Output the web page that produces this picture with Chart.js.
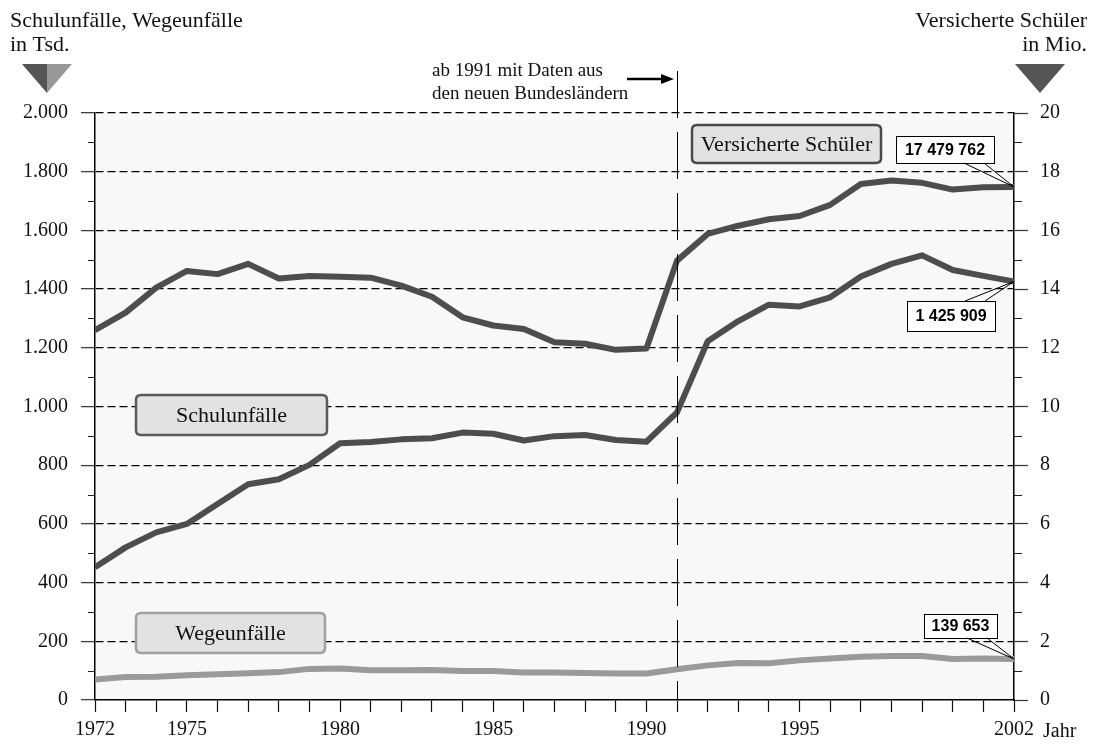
<!DOCTYPE html>
<html lang="de">
<head>
<meta charset="utf-8">
<title>Schulunfälle, Wegeunfälle und versicherte Schüler 1972–2002</title>
<script src="https://cdn.jsdelivr.net/npm/chart.js@4.4.1/dist/chart.umd.min.js"></script>
<style>
  html, body { margin: 0; padding: 0; background: #ffffff; }
  #wrap { width: 1093px; height: 746px; position: relative; }
  canvas { display: block; }
</style>
</head>
<body>
<div id="wrap"><canvas id="chart" width="1093" height="746"></canvas></div>
<script>
// Jahre 1972–2002
const years = [1972, 1973, 1974, 1975, 1976, 1977, 1978, 1979, 1980, 1981,
               1982, 1983, 1984, 1985, 1986, 1987, 1988, 1989, 1990, 1991,
               1992, 1993, 1994, 1995, 1996, 1997, 1998, 1999, 2000, 2001, 2002];

// Schulunfälle in Tsd.
const schulunfaelle = [452, 520, 571, 600, 668, 735, 752, 801, 875, 879,
                       888, 892, 911, 907, 884, 899, 903, 886, 880, 980,
                       1222, 1291, 1347, 1341, 1372, 1443, 1486, 1515, 1465, 1445, 1425.909];

// Wegeunfälle in Tsd.
const wegeunfaelle = [70, 78, 79, 84, 88, 91, 95, 106, 107, 101,
                      101, 102, 99, 99, 94, 94, 92, 90, 90, 105,
                      118, 126, 125, 135, 141, 147, 150, 150, 140, 141, 139.653];

// Versicherte Schüler in Mio.
const versicherte = [12.6, 13.2, 14.05, 14.62, 14.51, 14.86, 14.36, 14.45, 14.42, 14.39,
                     14.12, 13.74, 13.04, 12.76, 12.64, 12.19, 12.14, 11.93, 11.98, 14.97,
                     15.88, 16.16, 16.38, 16.49, 16.87, 17.58, 17.70, 17.62, 17.39, 17.47, 17.479762];

// Beschriftete Jahre auf der x-Achse
const xTickLabels = [1972, 1975, 1980, 1985, 1990, 1995, 2002];

// Achsenbereiche
const leftAxis = { min: 0, max: 2000, step: 200, minorStep: 100 };
const rightAxis = { min: 0, max: 20, step: 2, minorStep: 1 };

const SERIF = '"Liberation Serif", "DejaVu Serif", serif';
const SANS = '"Liberation Sans", Arial, sans-serif';

const DARK = '#4d4d4d';
const LIGHT = '#9a9a9a';

function thousandsDot(v) {
  return String(v).replace(/\B(?=(\d{3})+(?!\d))/g, '.');
}
function groupSpace(n) {
  return String(n).replace(/\B(?=(\d{3})+(?!\d))/g, ' ');
}
function pts(values) {
  return years.map((y, i) => ({ x: y, y: values[i] }));
}

function roundRect(ctx, x, y, w, h, r) {
  ctx.beginPath();
  ctx.moveTo(x + r, y);
  ctx.lineTo(x + w - r, y);
  ctx.quadraticCurveTo(x + w, y, x + w, y + r);
  ctx.lineTo(x + w, y + h - r);
  ctx.quadraticCurveTo(x + w, y + h, x + w - r, y + h);
  ctx.lineTo(x + r, y + h);
  ctx.quadraticCurveTo(x, y + h, x, y + h - r);
  ctx.lineTo(x, y + r);
  ctx.quadraticCurveTo(x, y, x + r, y);
  ctx.closePath();
}

function seriesLabel(ctx, text, x, y, w, h, border) {
  ctx.save();
  roundRect(ctx, x, y, w, h, 5);
  ctx.fillStyle = '#e2e2e2';
  ctx.fill();
  ctx.lineWidth = 2.5;
  ctx.strokeStyle = border;
  ctx.stroke();
  ctx.fillStyle = '#111';
  ctx.font = '22px ' + SERIF;
  ctx.textAlign = 'center';
  ctx.textBaseline = 'middle';
  ctx.fillText(text, x + w / 2, y + h / 2 + 1);
  ctx.restore();
}

// Wertekasten mit Zeigerlinien zum letzten Datenpunkt
function callout(ctx, text, box, px, py, fromTop) {
  ctx.save();
  ctx.fillStyle = '#ffffff';
  ctx.fillRect(box.x, box.y, box.w, box.h);
  ctx.lineWidth = 1;
  ctx.strokeStyle = '#000';
  ctx.strokeRect(box.x + 0.5, box.y + 0.5, box.w, box.h);
  const ey = fromTop ? box.y : box.y + box.h;
  ctx.beginPath();
  ctx.moveTo(box.x + box.w - 30, ey);
  ctx.lineTo(px, py);
  ctx.moveTo(box.x + box.w - 10, ey);
  ctx.lineTo(px, py);
  ctx.stroke();
  ctx.fillStyle = '#000';
  ctx.font = 'bold 16px ' + SANS;
  ctx.textAlign = 'center';
  ctx.textBaseline = 'middle';
  ctx.fillText(text, box.x + box.w / 2, box.y + box.h / 2 + 1);
  ctx.restore();
}

const decor = {
  id: 'decor',
  beforeDraw(chart) {
    const { ctx, chartArea: a } = chart;
    ctx.save();
    ctx.fillStyle = '#f8f8f8';
    ctx.fillRect(a.left, a.top, a.right - a.left, a.bottom - a.top);
    ctx.restore();
  },
  afterDraw(chart) {
    const { ctx, chartArea: a, scales } = chart;
    const x = scales.x, yl = scales.y, yr = scales.y2;

    // Zwischenstriche (kurz) an beiden y-Achsen
    ctx.save();
    ctx.strokeStyle = '#222';
    ctx.lineWidth = 1.2;
    ctx.beginPath();
    for (let v = leftAxis.minorStep; v < leftAxis.max; v += leftAxis.step) {
      const py = Math.round(yl.getPixelForValue(v)) + 0.5;
      ctx.moveTo(a.left - 7, py); ctx.lineTo(a.left, py);
    }
    for (let v = rightAxis.minorStep; v < rightAxis.max; v += rightAxis.step) {
      const py = Math.round(yr.getPixelForValue(v)) + 0.5;
      ctx.moveTo(a.right, py); ctx.lineTo(a.right + 8, py);
    }
    ctx.stroke();
    ctx.restore();

    // Trennlinie ab 1991
    const x91 = Math.round(x.getPixelForValue(1991)) + 0.5;
    ctx.save();
    ctx.strokeStyle = '#000';
    ctx.lineWidth = 1;
    ctx.setLineDash([47, 14]);
    ctx.beginPath();
    ctx.moveTo(x91, 71);
    ctx.lineTo(x91, a.bottom);
    ctx.stroke();
    ctx.restore();

    // Hinweis mit Pfeil
    ctx.save();
    ctx.fillStyle = '#111';
    ctx.font = '19px ' + SERIF;
    ctx.textAlign = 'left';
    ctx.textBaseline = 'middle';
    ctx.fillText('ab 1991 mit Daten aus', 432, 71);
    ctx.fillText('den neuen Bundesländern', 432, 94);
    ctx.strokeStyle = '#000';
    ctx.lineWidth = 2.5;
    ctx.beginPath();
    ctx.moveTo(627, 79);
    ctx.lineTo(664, 79);
    ctx.stroke();
    ctx.fillStyle = '#000';
    ctx.beginPath();
    ctx.moveTo(674, 79);
    ctx.lineTo(661, 74);
    ctx.lineTo(661, 84);
    ctx.closePath();
    ctx.fill();
    ctx.restore();

    // Achsentitel
    ctx.save();
    ctx.fillStyle = '#111';
    ctx.font = '22px ' + SERIF;
    ctx.textBaseline = 'middle';
    ctx.textAlign = 'left';
    ctx.fillText('Schulunfälle, Wegeunfälle', 10, 21);
    ctx.fillText('in Tsd.', 10, 45);
    ctx.textAlign = 'right';
    ctx.fillText('Versicherte Schüler', 1087, 21);
    ctx.fillText('in Mio.', 1087, 45);
    ctx.restore();

    // Dreiecke unter den Achsentiteln
    ctx.save();
    ctx.fillStyle = '#555555';
    ctx.beginPath();
    ctx.moveTo(22, 64); ctx.lineTo(47, 64); ctx.lineTo(47, 93); ctx.closePath();
    ctx.fill();
    ctx.fillStyle = '#999999';
    ctx.beginPath();
    ctx.moveTo(47, 64); ctx.lineTo(72, 64); ctx.lineTo(47, 93); ctx.closePath();
    ctx.fill();
    ctx.fillStyle = '#555555';
    ctx.beginPath();
    ctx.moveTo(1015, 64); ctx.lineTo(1065, 64); ctx.lineTo(1040, 93); ctx.closePath();
    ctx.fill();
    ctx.restore();

    // "Jahr" neben der letzten Jahreszahl
    ctx.save();
    ctx.fillStyle = '#111';
    ctx.font = '20px ' + SERIF;
    ctx.textAlign = 'left';
    ctx.textBaseline = 'middle';
    ctx.fillText('Jahr', 1043, 732);
    ctx.restore();

    // Reihenbeschriftungen
    seriesLabel(ctx, 'Versicherte Schüler', 692, 125, 189, 38, '#4a4a4a');
    seriesLabel(ctx, 'Schulunfälle', 136, 395, 191, 40, '#5a5a5a');
    seriesLabel(ctx, 'Wegeunfälle', 136, 613, 189, 40, '#a0a0a0');

    // Werte des letzten Jahres
    const last = years.length - 1;
    const px = x.getPixelForValue(years[last]);
    callout(ctx, groupSpace(Math.round(versicherte[last] * 1e6)),
      { x: 896, y: 136, w: 98, h: 27 }, px, yr.getPixelForValue(versicherte[last]), false);
    callout(ctx, groupSpace(Math.round(schulunfaelle[last] * 1e3)),
      { x: 907, y: 301, w: 88, h: 30 }, px, yl.getPixelForValue(schulunfaelle[last]), true);
    callout(ctx, groupSpace(Math.round(wegeunfaelle[last] * 1e3)),
      { x: 924, y: 614, w: 73, h: 24 }, px, yl.getPixelForValue(wegeunfaelle[last]), false);
  }
};

const tickFont = { family: SERIF, size: 20 };

new Chart(document.getElementById('chart'), {
  type: 'line',
  data: {
    datasets: [
      { label: 'Wegeunfälle', data: pts(wegeunfaelle), yAxisID: 'y',
        borderColor: LIGHT, borderWidth: 6 },
      { label: 'Schulunfälle', data: pts(schulunfaelle), yAxisID: 'y',
        borderColor: DARK, borderWidth: 6 },
      { label: 'Versicherte Schüler', data: pts(versicherte), yAxisID: 'y2',
        borderColor: DARK, borderWidth: 6 }
    ]
  },
  options: {
    responsive: false,
    animation: false,
    layout: { padding: { top: 113, left: 0, right: 0, bottom: 0 } },
    elements: {
      point: { radius: 0, hoverRadius: 0 },
      line: { tension: 0, borderJoinStyle: 'round', borderCapStyle: 'butt', fill: false }
    },
    plugins: {
      legend: { display: false },
      tooltip: { enabled: false },
      title: { display: false }
    },
    scales: {
      x: {
        type: 'linear', min: years[0], max: years[years.length - 1],
        ticks: {
          stepSize: 1, autoSkip: false, maxRotation: 0, includeBounds: true,
          color: '#111', font: tickFont, padding: 6,
          callback: v => xTickLabels.includes(v) ? String(v) : ''
        },
        grid: { drawOnChartArea: false, tickLength: 12, tickColor: '#111', tickWidth: 1.2 },
        border: { display: true, color: '#000', width: 1.5 },
        afterFit: s => { s.height = 46; }
      },
      y: {
        type: 'linear', position: 'left', min: leftAxis.min, max: leftAxis.max,
        ticks: {
          stepSize: leftAxis.step, color: '#111', font: tickFont, padding: 13,
          callback: v => thousandsDot(v)
        },
        grid: {
          color: c => (c.tick && c.tick.value === 0) ? 'rgba(0,0,0,0)' : '#000',
          lineWidth: 1.3, tickLength: 14, tickColor: '#333', tickWidth: 1.2,
          tickBorderDash: []
        },
        border: { display: true, color: '#000', width: 1.5, dash: [8, 4] },
        afterFit: s => { s.width = 95; }
      },
      y2: {
        type: 'linear', position: 'right', min: rightAxis.min, max: rightAxis.max,
        ticks: { stepSize: rightAxis.step, color: '#111', font: tickFont, padding: 12 },
        grid: { drawOnChartArea: false, tickLength: 14, tickColor: '#333', tickWidth: 1.2 },
        border: { display: true, color: '#000', width: 1.5 },
        afterFit: s => { s.width = 79; }
      }
    }
  },
  plugins: [decor]
});
</script>
</body>
</html>
